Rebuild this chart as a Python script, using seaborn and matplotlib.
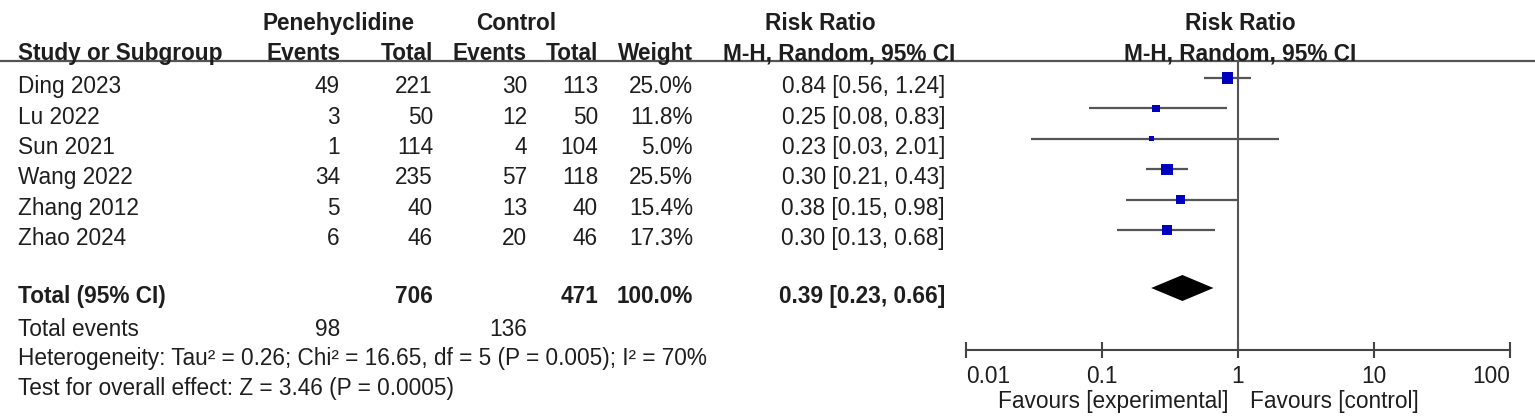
import numpy as np
import pandas as pd
import matplotlib
matplotlib.use("Agg")
import matplotlib.pyplot as plt
from matplotlib.ticker import NullLocator
import seaborn as sns

# ---------------- data ----------------
studies = ["Ding 2023", "Lu 2022", "Sun 2021", "Wang 2022", "Zhang 2012", "Zhao 2024"]
pen_events = [49, 3, 1, 34, 5, 6]
pen_total = [221, 50, 114, 235, 40, 46]
ctl_events = [30, 12, 4, 57, 13, 20]
ctl_total = [113, 50, 104, 118, 40, 46]
weights = [25.0, 11.8, 5.0, 25.5, 15.4, 17.3]
rr = [0.84, 0.25, 0.23, 0.30, 0.38, 0.30]
ci_low = [0.56, 0.08, 0.03, 0.21, 0.15, 0.13]
ci_high = [1.24, 0.83, 2.01, 0.43, 0.98, 0.68]

total_pen = 706
total_ctl = 471
total_weight = 100.0
pooled = [0.39, 0.23, 0.66]  # estimate, low, high
events_pen_sum = 98
events_ctl_sum = 136
heterogeneity_text = "Heterogeneity: Tau\u00b2 = 0.26; Chi\u00b2 = 16.65, df = 5 (P = 0.005); I\u00b2 = 70%"
overall_text = "Test for overall effect: Z = 3.46 (P = 0.0005)"
x_ticks = [0.01, 0.1, 1, 10, 100]
x_tick_labels = ["0.01", "0.1", "1", "10", "100"]
favours_left = "Favours [experimental]"
favours_right = "Favours [control]"

# ---------------- style ----------------
sns.set_theme(style="white")
plt.rcParams["font.family"] = ["Liberation Sans", "DejaVu Sans"]

W, H = 1535, 416
FS = 16.3
TXT = "#1e1e1e"
LINE = "#555555"
BOX = "#0000c0"
CAP = 0.716 * FS * 100 / 72 / 2  # half cap height in px (baseline offset)

fig = plt.figure(figsize=(W / 100, H / 100), dpi=100)
axt = fig.add_axes([0, 0, 1, 1])
axt.set_xlim(0, W)
axt.set_ylim(H, 0)
axt.axis("off")


def t(x, y, s, ha="left", bold=False):
    axt.text(x, y + CAP, s, ha=ha, va="baseline", fontsize=FS,
             fontweight="bold" if bold else "normal", color=TXT)


# headers
t(339, 22, "Penehyclidine", "center", True)
t(516, 22, "Control", "center", True)
t(820, 22, "Risk Ratio", "center", True)
t(1240, 22, "Risk Ratio", "center", True)
t(18, 52, "Study or Subgroup", "left", True)
t(340, 52, "Events", "right", True)
t(433, 52, "Total", "right", True)
t(527, 52, "Events", "right", True)
t(598, 52, "Total", "right", True)
t(693, 52, "Weight", "right", True)
t(839, 52, "M-H, Random, 95% CI", "center", True)
t(1240, 52, "M-H, Random, 95% CI", "center", True)
axt.axhline(61, color=LINE, lw=1.6)

ROW0, STEP = 85, 30.4
for i, s in enumerate(studies):
    y = ROW0 + STEP * i
    t(18, y, s)
    t(340, y, str(pen_events[i]), "right")
    t(433, y, str(pen_total[i]), "right")
    t(527, y, str(ctl_events[i]), "right")
    t(598, y, str(ctl_total[i]), "right")
    t(693, y, f"{weights[i]:.1f}%", "right")
    t(945, y, f"{rr[i]:.2f} [{ci_low[i]:.2f}, {ci_high[i]:.2f}]", "right")

yt = 295
t(18, yt, "Total (95% CI)", "left", True)
t(433, yt, str(total_pen), "right", True)
t(598, yt, str(total_ctl), "right", True)
t(693, yt, f"{total_weight:.1f}%", "right", True)
t(945, yt, f"{pooled[0]:.2f} [{pooled[1]:.2f}, {pooled[2]:.2f}]", "right", True)
t(18, 328, "Total events")
t(340, 328, str(events_pen_sum), "right")
t(527, 328, str(events_ctl_sum), "right")
t(18, 357, heterogeneity_text)
t(18, 387, overall_text)
t(1228, 400, favours_left, "right")
t(1250, 400, favours_right, "left")

# ---------------- forest axes ----------------
x0, x1, ytop, ybot = 966, 1510, 62, 350
ax = fig.add_axes([x0 / W, 1 - ybot / H, (x1 - x0) / W, (ybot - ytop) / H])
ax.patch.set_alpha(0)
MK0 = 78.0
df = pd.DataFrame({"rr": rr, "lo": ci_low, "hi": ci_high, "w": weights,
                   "row": np.arange(len(studies), dtype=float)})
ax.hlines(df["row"], df["lo"], df["hi"], color=LINE, lw=1.6, zorder=2)
sns.scatterplot(data=df, x="rr", y="row", size="w", sizes=(0, 66), size_norm=(0, 25.5),
                marker="s", color=BOX, linewidth=0, legend=False, ax=ax, zorder=3)
prow = (288 - MK0) / STEP
hh = 13 / STEP
ax.fill([pooled[1], pooled[0], pooled[2], pooled[0]],
        [prow, prow - hh, prow, prow + hh], color="black", lw=0, zorder=3)
ax.axvline(1, color=LINE, lw=1.5, zorder=1)

ax.set_xscale("log")
ax.set_xlim(x_ticks[0], x_ticks[-1])
ax.set_ylim((ybot - MK0) / STEP, (ytop - MK0) / STEP)
ax.set_xlabel("")
ax.set_ylabel("")
ax.set_yticks([])
ax.set_xticks(x_ticks)
ax.set_xticklabels(x_tick_labels)
ax.xaxis.set_minor_locator(NullLocator())
ax.tick_params(axis="x", direction="inout", length=11, width=1.5, color="#444444",
               labelsize=FS, pad=5.5, labelcolor=TXT, bottom=True)
labs = ax.get_xticklabels()
labs[0].set_ha("left")
labs[-1].set_ha("right")
for sp in ["top", "left", "right"]:
    ax.spines[sp].set_visible(False)
ax.spines["bottom"].set_color("#444444")
ax.spines["bottom"].set_linewidth(1.5)

fig.savefig("out.png", dpi=100)
